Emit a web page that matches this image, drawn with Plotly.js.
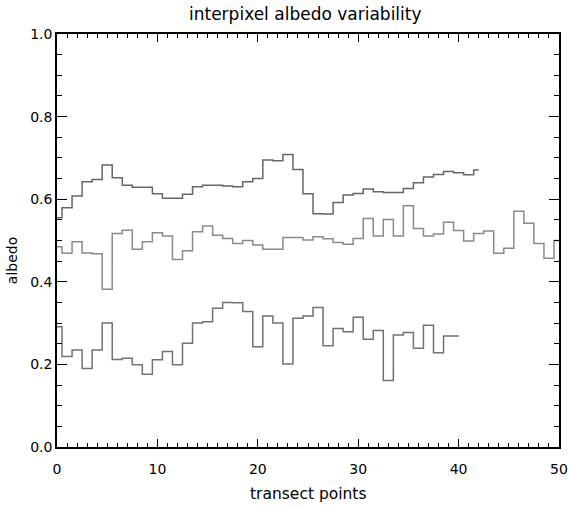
<!DOCTYPE html>
<html>
<head>
<meta charset="utf-8">
<script src="https://cdn.plot.ly/plotly-3.0.1.min.js"></script>
<style>html,body{margin:0;padding:0;background:#fff;}#chart{width:569px;height:507px;}</style>
</head>
<body>
<div id="chart"></div>
<script>
// transect point indices
const upperX = Array.from({length: 43}, (_, i) => i);
const middleX = Array.from({length: 51}, (_, i) => i);
const lowerX = Array.from({length: 41}, (_, i) => i);

// albedo values
const upperAlbedo = [0.555, 0.579, 0.608, 0.642, 0.648, 0.683, 0.652, 0.634, 0.629, 0.629,
  0.613, 0.602, 0.602, 0.612, 0.630, 0.634, 0.634, 0.632, 0.630, 0.642,
  0.650, 0.695, 0.693, 0.708, 0.672, 0.613, 0.565, 0.564, 0.592, 0.610,
  0.614, 0.625, 0.618, 0.616, 0.616, 0.626, 0.640, 0.654, 0.660, 0.667,
  0.664, 0.659, 0.671];
const middleAlbedo = [0.485, 0.469, 0.497, 0.470, 0.468, 0.382, 0.517, 0.525, 0.479, 0.497,
  0.519, 0.511, 0.454, 0.475, 0.521, 0.535, 0.513, 0.505, 0.493, 0.500,
  0.489, 0.479, 0.479, 0.507, 0.507, 0.501, 0.509, 0.504, 0.495, 0.491,
  0.505, 0.553, 0.511, 0.551, 0.511, 0.584, 0.529, 0.511, 0.516, 0.544,
  0.524, 0.499, 0.517, 0.523, 0.469, 0.481, 0.571, 0.542, 0.493, 0.457,
  0.500];
const lowerAlbedo = [0.291, 0.219, 0.235, 0.190, 0.235, 0.300, 0.212, 0.215, 0.199, 0.176,
  0.211, 0.231, 0.199, 0.251, 0.300, 0.303, 0.336, 0.350, 0.349, 0.328,
  0.243, 0.317, 0.300, 0.201, 0.312, 0.317, 0.338, 0.245, 0.287, 0.279,
  0.314, 0.261, 0.282, 0.161, 0.271, 0.277, 0.239, 0.295, 0.228, 0.269,
  0.269];

const xTickVals = [0, 10, 20, 30, 40, 50];
const yTickVals = [0.0, 0.2, 0.4, 0.6, 0.8, 1.0];

const FONT = 'DejaVu Sans, sans-serif';

function stepTrace(x, y, color) {
  return {
    x: x, y: y, type: 'scatter', mode: 'lines',
    line: {shape: 'hvh', color: color, width: 1.5},
    hoverinfo: 'skip', showlegend: false
  };
}

const data = [
  stepTrace(upperX, upperAlbedo, '#666666'),
  stepTrace(middleX, middleAlbedo, '#8a8a8a'),
  stepTrace(lowerX, lowerAlbedo, '#727272')
];

const layout = {
  width: 569, height: 507,
  margin: {l: 57, r: 10, t: 34, b: 60},
  paper_bgcolor: '#fff', plot_bgcolor: '#fff',
  font: {family: FONT, color: '#000', size: 14},
  xaxis: {
    range: [0, 50], tickvals: xTickVals, ticktext: xTickVals.map(String),
    ticks: 'inside', ticklen: 8, tickwidth: 1, tickcolor: '#000',
    minor: {dtick: 1, ticks: 'inside', ticklen: 4, tickcolor: '#000', tickwidth: 1, showgrid: false},
    showline: true, linecolor: '#000', linewidth: 1.8, mirror: 'ticks',
    showgrid: false, zeroline: false, ticklabelstandoff: 8,
    tickfont: {family: FONT, size: 14, color: '#000'}
  },
  yaxis: {
    range: [0, 1], tickvals: yTickVals, tickformat: '.1f',
    ticks: 'inside', ticklen: 10, tickwidth: 1, tickcolor: '#000',
    minor: {dtick: 0.05, ticks: 'inside', ticklen: 5, tickcolor: '#000', tickwidth: 1, showgrid: false},
    showline: true, linecolor: '#000', linewidth: 1.8, mirror: 'ticks',
    showgrid: false, zeroline: false,
    tickfont: {family: FONT, size: 14, color: '#000'}
  },
  annotations: [
    {text: 'interpixel albedo variability', xref: 'paper', yref: 'paper',
     x: 0.496, y: 1 + 20 / 413, xanchor: 'center', yanchor: 'middle', showarrow: false,
     font: {family: FONT, size: 17, color: '#000'}},
    {text: 'transect points', xref: 'paper', yref: 'paper',
     x: 0.5, y: -47 / 413, xanchor: 'center', yanchor: 'middle', showarrow: false,
     font: {family: FONT, size: 15.5, color: '#000'}},
    {text: 'albedo', xref: 'paper', yref: 'paper', textangle: -90,
     x: -45 / 502, y: 0.45, xanchor: 'center', yanchor: 'middle', showarrow: false,
     font: {family: FONT, size: 14, color: '#000'}}
  ]
};

Plotly.newPlot('chart', data, layout, {displayModeBar: false, staticPlot: true});
</script>
</body>
</html>
